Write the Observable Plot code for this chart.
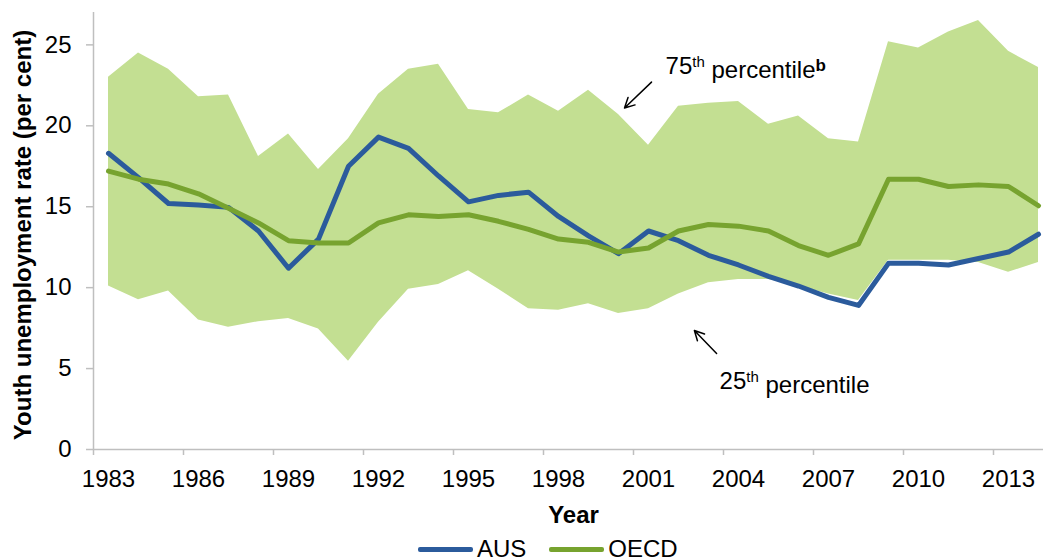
<!DOCTYPE html>
<html>
<head>
<meta charset="utf-8">
<script src="https://cdn.jsdelivr.net/npm/d3@7"></script>
<script src="https://cdn.jsdelivr.net/npm/@observablehq/plot@0.6"></script>
<style>
  html, body { margin: 0; padding: 0; background: #fff; }
  body { font-family: "Liberation Sans", Arial, sans-serif; width: 1043px; height: 560px; overflow: hidden; }
  #legend { display: flex; align-items: center; height: 34px; padding-left: 418px; font-size: 24px; color: #000; }
  #legend .sw { width: 55px; height: 5px; margin-right: 4px; border-radius: 2px; }
  #legend .lab { margin-right: 23px; line-height: 34px; }
</style>
</head>
<body>
<div id="chart"></div>
<div id="legend"></div>
<script>
// ---- Data ----
const years = [1983, 1984, 1985, 1986, 1987, 1988, 1989, 1990, 1991, 1992,
               1993, 1994, 1995, 1996, 1997, 1998, 1999, 2000, 2001, 2002,
               2003, 2004, 2005, 2006, 2007, 2008, 2009, 2010, 2011, 2012,
               2013, 2014];
const aus  = [18.3, 16.8, 15.2, 15.1, 14.96, 13.5, 11.2, 13.0, 17.5, 19.3,
              18.6, 16.9, 15.3, 15.7, 15.9, 14.4, 13.2, 12.1, 13.5, 12.9,
              12.0, 11.4, 10.7, 10.1, 9.4, 8.9, 11.5, 11.5, 11.4, 11.8,
              12.2, 13.3];
const oecd = [17.2, 16.7, 16.4, 15.8, 14.9, 14.0, 12.9, 12.76, 12.76, 14.0,
              14.5, 14.4, 14.5, 14.1, 13.6, 13.0, 12.8, 12.2, 12.45, 13.5,
              13.9, 13.8, 13.5, 12.6, 12.0, 12.7, 16.7, 16.7, 16.25, 16.35,
              16.25, 15.06];
const p75  = [23.0, 24.5, 23.5, 21.8, 21.9, 18.1, 19.5, 17.3, 19.2, 21.95,
              23.5, 23.8, 21.0, 20.8, 21.9, 20.9, 22.2, 20.7, 18.8, 21.2,
              21.4, 21.5, 20.1, 20.6, 19.2, 19.0, 25.2, 24.8, 25.8, 26.5,
              24.6, 23.6];
const p25  = [10.1, 9.26, 9.8, 8.0, 7.55, 7.9, 8.1, 7.45, 5.45, 7.86,
              9.9, 10.2, 11.05, 9.9, 8.7, 8.6, 9.0, 8.4, 8.7, 9.6,
              10.3, 10.5, 10.5, 10.1, 9.6, 9.2, 11.7, 11.7, 11.7, 11.56,
              10.95, 11.56];

const seriesNames  = ["AUS", "OECD"];
const seriesColors = ["#2B5B9C", "#77A32F"];
const bandColor    = "#C3DF92";

const xTickLabels = [1983, 1986, 1989, 1992, 1995, 1998, 2001, 2004, 2007, 2010, 2013];
const yTicks      = [0, 5, 10, 15, 20, 25];
const xTitle = "Year";
const yTitle = "Youth unemployment rate (per cent)";

// annotation labels: main text, superscript, rest, bold superscript
const annLabels = [
  {main: "75", sup: "th", rest: " percentile", supBold: "b", x: 2001.57, y: 23.7},
  {main: "25", sup: "th", rest: " percentile", supBold: "",  x: 2003.37, y: 4.24}
];
const annArrows = [
  {x1: 2001.1, y1: 22.7, x2: 2000.2, y2: 21.1},
  {x1: 2003.27, y1: 5.93, x2: 2002.53, y2: 7.35}
];

// ---- Build table ----
const rows = years.map((yr, i) => ({year: yr, aus: aus[i], oecd: oecd[i], p25: p25[i], p75: p75[i]}));
const xTickMarks = xTickLabels.map(d => d - 0.5); // category boundaries

const W = 1043, H = 532;
const axisGray = "#BFBFBF";

const chart = Plot.plot({
  width: W,
  height: H,
  marginLeft: 93,
  marginRight: 0,
  marginTop: 12,
  marginBottom: 83,
  style: {fontFamily: "'Liberation Sans', Arial, sans-serif", fontSize: "24px", background: "#fff", color: "#000", overflow: "visible"},
  x: {type: "linear", domain: [years[0] - 0.5, years[years.length - 1] + 0.5], range: [93, 93 + 30 * years.length]},
  y: {domain: [0, 27]},
  marks: [
    Plot.areaY(rows, {x: "year", y1: "p25", y2: "p75", fill: bandColor}),
    Plot.line(rows, {x: "year", y: "aus", stroke: seriesColors[0], strokeWidth: 5, strokeLinejoin: "round"}),
    Plot.line(rows, {x: "year", y: "oecd", stroke: seriesColors[1], strokeWidth: 5, strokeLinejoin: "round"}),
    Plot.ruleY([0], {stroke: axisGray, strokeWidth: 1.5}),
    Plot.ruleX([years[0] - 0.5], {stroke: axisGray, strokeWidth: 1.5}),
    Plot.axisY({ticks: yTicks, tickSize: 7, tickPadding: 15, stroke: axisGray, strokeWidth: 1.5, label: null, fontSize: 24}),
    Plot.axisX({ticks: xTickMarks, tickSize: 6, tickFormat: () => "", stroke: axisGray, strokeWidth: 1.5, label: null}),
    Plot.axisX({ticks: xTickLabels, tickSize: 0, tickPadding: 20, tickFormat: d => String(d), label: null, fontSize: 24}),
    Plot.text([xTitle], {frameAnchor: "bottom", dy: 66, dx: 5, lineAnchor: "middle", fontWeight: "bold", fontSize: 24}),
    Plot.text([yTitle], {frameAnchor: "left", rotate: -90, textAnchor: "middle", dx: -70, dy: 4, fontWeight: "bold", fontSize: 24}),
    Plot.arrow(annArrows, {x1: "x1", y1: "y1", x2: "x2", y2: "y2", stroke: "#000", strokeWidth: 1.5, headLength: 11, headAngle: 55}),
    Plot.text(annLabels, {x: "x", y: "y", text: d => d.main + d.sup + d.rest + d.supBold, textAnchor: "start", lineAnchor: "middle", fontSize: 24})
  ]
});
document.getElementById("chart").appendChild(chart);

// Rebuild annotation texts with superscripts
annLabels.forEach(a => {
  const full = a.main + a.sup + a.rest + a.supBold;
  d3.select(chart).selectAll("text").filter(function() { return this.textContent === full; })
    .each(function() {
      const t = d3.select(this);
      t.text(null);
      t.append("tspan").text(a.main);
      t.append("tspan").attr("dy", "-0.45em").attr("font-size", 15).text(a.sup);
      t.append("tspan").attr("dy", "0.45em").text(a.rest);
      if (a.supBold) t.append("tspan").attr("dy", "-0.4em").attr("font-size", 17).attr("font-weight", "bold").text(a.supBold);
    });
});

// Legend
const legend = d3.select("#legend");
seriesNames.forEach((name, i) => {
  legend.append("span").attr("class", "sw").style("background", seriesColors[i]);
  legend.append("span").attr("class", "lab").text(name);
});
</script>
</body>
</html>
